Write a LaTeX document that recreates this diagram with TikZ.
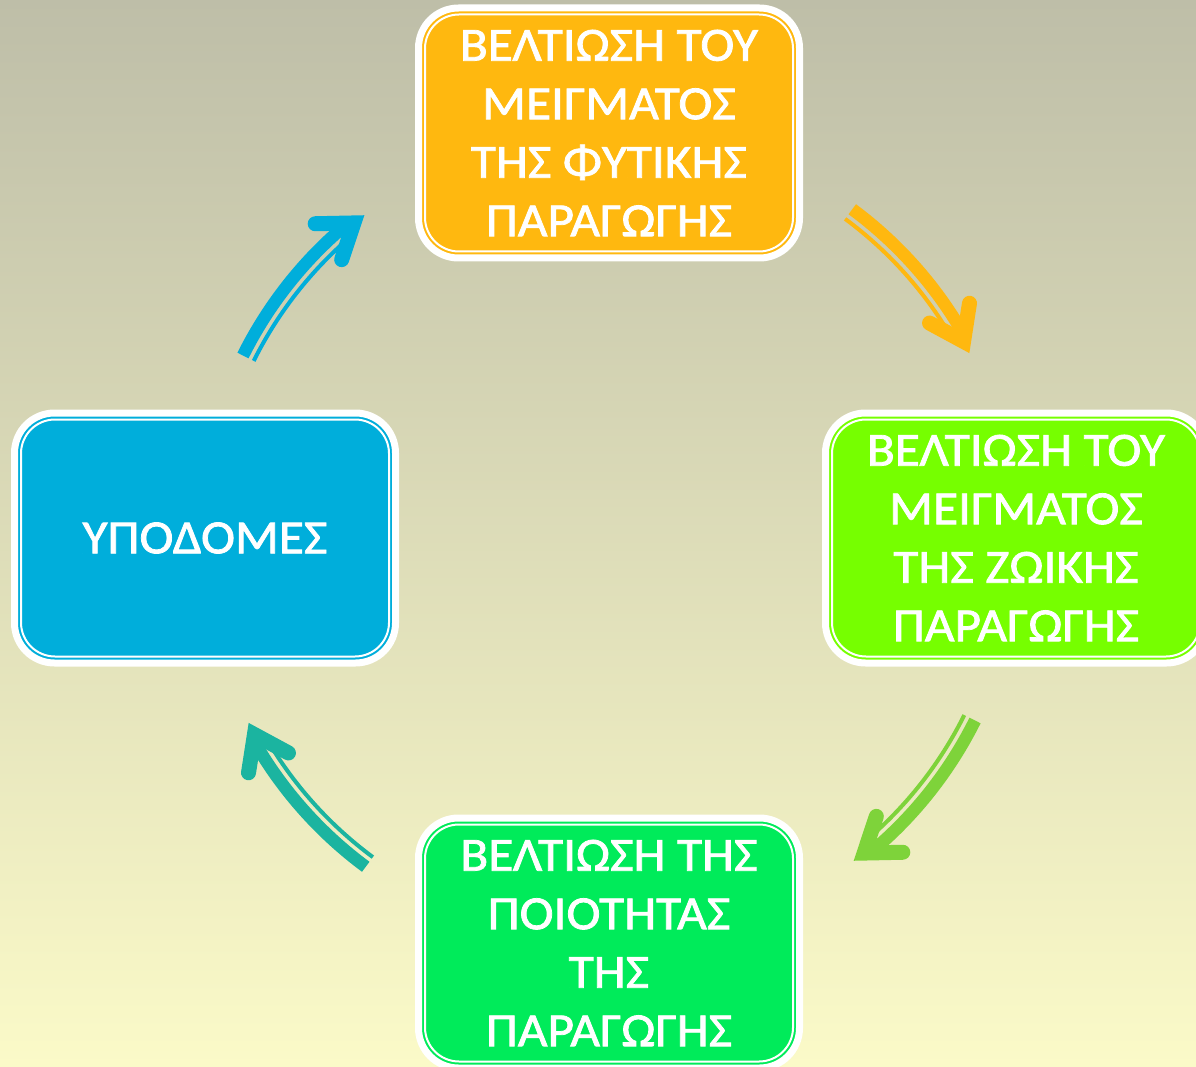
\documentclass[tikz,border=0pt]{standalone}
\usepackage{fontspec}
\newfontfamily\boxfont{Carlito}[FakeStretch=1.08, FakeBold=1.6]
\definecolor{bgtop}{RGB}{190,190,168}
\definecolor{bgmid}{RGB}{226,226,190}
\definecolor{bgbot}{RGB}{251,250,200}
\definecolor{cOrange}{RGB}{255,184,15}
\definecolor{cLime}{RGB}{118,255,0}
\definecolor{cGreen}{RGB}{0,235,90}
\definecolor{cBlue}{RGB}{0,174,219}
\definecolor{aGreen}{RGB}{126,211,58}
\definecolor{aTeal}{RGB}{27,180,160}
\tikzset{
  box/.style={rectangle, rounded corners=40pt, draw=white, line width=7pt,
    minimum width=381pt, minimum height=250pt, outer sep=0pt, inner sep=0pt,
    text=white, align=center, font={\boxfont\fontsize{47.5}{58.5}\selectfont}},
  innerline/.style={draw=white, line width=2pt, rounded corners=34pt},
  thickshaft/.style={line width=12.5pt},
  thinshaft/.style={line width=4pt},
  headstroke/.style={line width=15pt, line cap=round, line join=miter},
}
\newcommand{\cyclearrow}[2]{%
  \begin{scope}[rotate=-#1, draw=#2, color=#2]
    \draw[thickshaft] (53.5:409) arc[start angle=53.5, end angle=30, radius=409];
    \draw[thinshaft] (53.5:397) arc[start angle=53.5, end angle=31.5, radius=397];
    \begin{scope}[shift={(26.4:405)}, rotate=63.6]
      \coordinate (hA) at (-50,22.3);
      \coordinate (hV) at (-18.4,0);
      \coordinate (hB) at (-50,-22.3);
      \draw[headstroke] (hA) -- (hV) -- (hB);
    \end{scope}
  \end{scope}}
\begin{document}
\begin{tikzpicture}[x=1pt, y=-1pt]
  \useasboundingbox (0,0) rectangle (1196,1067);
  \clip (0,0) rectangle (1196,1067);
  \shade[top color=bgtop, middle color=bgmid, bottom color=bgbot] (0,0) rectangle (1196,1067);

  \node[box, fill=cOrange] (top) at (609,133) {ΒΕΛΤΙΩΣΗ ΤΟΥ\\ΜΕΙΓΜΑΤΟΣ\\ΤΗΣ ΦΥΤΙΚΗΣ\\ΠΑΡΑΓΩΓΗΣ};
  \node[box, fill=cLime] (right) at (1016,538) {ΒΕΛΤΙΩΣΗ ΤΟΥ\\ΜΕΙΓΜΑΤΟΣ\\ΤΗΣ ΖΩΙΚΗΣ\\ΠΑΡΑΓΩΓΗΣ};
  \node[box, fill=cGreen] (bottom) at (609,943) {ΒΕΛΤΙΩΣΗ ΤΗΣ\\ΠΟΙΟΤΗΤΑΣ\\ΤΗΣ\\ΠΑΡΑΓΩΓΗΣ};
  \node[box, fill=cBlue] (left) at (205,538) {ΥΠΟΔΟΜΕΣ};
  \foreach \n in {top,right,bottom,left}{
    \draw[innerline] ([shift={(6.5,6.5)}]\n.north west) rectangle ([shift={(-6.5,-6.5)}]\n.south east);
  }

  \begin{scope}[shift={(609,538)}, yscale=-1]
    \cyclearrow{0}{cOrange}
    \cyclearrow{-80}{aGreen}
    \cyclearrow{-180}{aTeal}
    \cyclearrow{100}{cBlue}
  \end{scope}
\end{tikzpicture}
\end{document}
